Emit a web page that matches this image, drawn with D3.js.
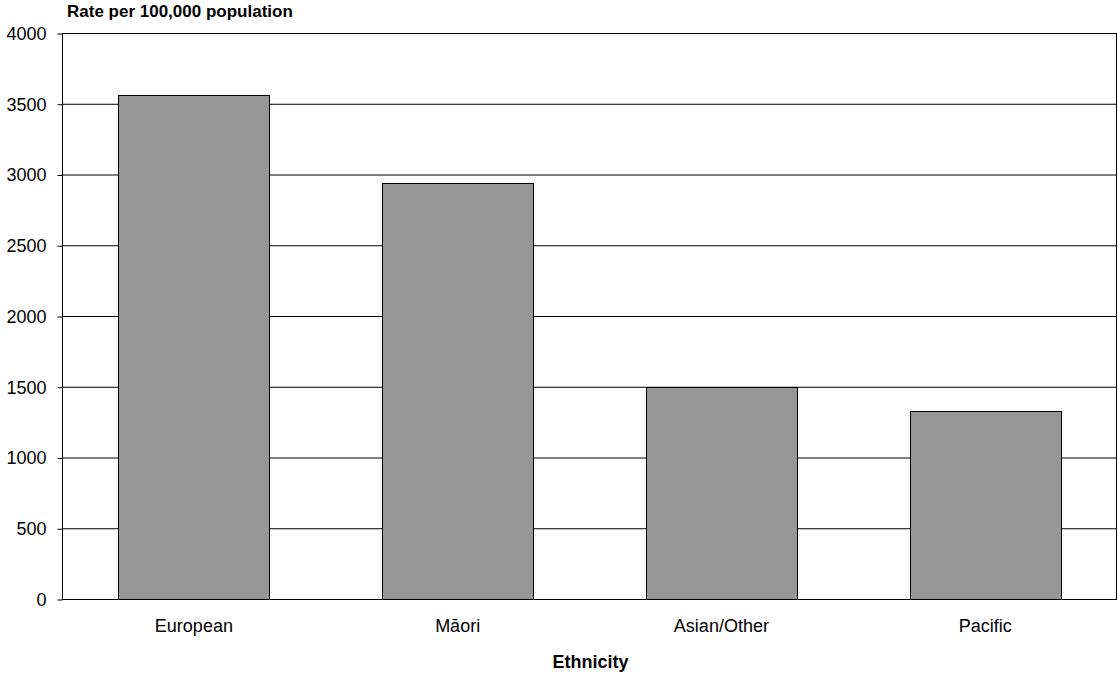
<!DOCTYPE html>
<html><head><meta charset="utf-8">
<script src="https://cdn.jsdelivr.net/npm/d3@7"></script>
<style>body{margin:0;background:#fff}svg{display:block}text{font-family:"Liberation Sans",Arial,sans-serif}</style>
</head><body>
<svg id="c" width="1118" height="675"></svg>
<script>
const categories = ["European", "Māori", "Asian/Other", "Pacific"];
const values = [3562, 2942, 1496, 1328];
const yTicks = [0, 500, 1000, 1500, 2000, 2500, 3000, 3500, 4000];
const yTitle = "Rate per 100,000 population";
const xTitle = "Ethnicity";

const svg = d3.select("#c");
const m = {l: 62, r: 1117, t: 33, b: 599};
const x = d3.scaleBand().domain(categories).range([m.l, m.r]).paddingInner(0.4275).paddingOuter(0.21375);
const y = d3.scaleLinear().domain([0, 4000]).range([m.b, m.t]);

// gridlines
svg.append("g").selectAll("line").data(yTicks.filter(d => d > 0)).join("line")
  .attr("x1", m.l).attr("x2", m.r).attr("y1", d => y(d) + 0.5).attr("y2", d => y(d) + 0.5)
  .attr("stroke", "#000").attr("stroke-width", 1);

// bars
svg.append("g").selectAll("rect").data(values).join("rect")
  .attr("x", (d, i) => Math.round(x(categories[i])) + 0.5)
  .attr("y", d => Math.round(y(d)) + 0.5)
  .attr("width", x.bandwidth())
  .attr("height", d => Math.round(y(0)) - Math.round(y(d)))
  .attr("fill", "#969696").attr("stroke", "#000").attr("stroke-width", 1);

// frame
svg.append("rect").attr("x", m.l + 0.5).attr("y", m.t + 0.5).attr("width", m.r - m.l - 1).attr("height", m.b - m.t)
  .attr("fill", "none").attr("stroke", "#000");

// y axis
const ya = svg.append("g").attr("transform", `translate(${m.l + 0.5},0.5)`)
  .call(d3.axisLeft(y).tickValues(yTicks).tickSize(5).tickPadding(11).tickFormat(d3.format("d")));
ya.select(".domain").remove();
ya.selectAll("text").attr("font-size", 18).attr("fill", "#000").attr("font-family", "Liberation Sans, Arial, sans-serif");
ya.selectAll("line").attr("stroke", "#000");

// x axis labels
const xa = svg.append("g").attr("transform", `translate(0,${m.b})`)
  .call(d3.axisBottom(x).tickSize(0).tickPadding(20));
xa.select(".domain").remove();
xa.selectAll("text").attr("font-size", 18).attr("fill", "#000").attr("font-family", "Liberation Sans, Arial, sans-serif");

svg.append("text").attr("x", 67).attr("y", 17).attr("font-size", 17).attr("font-weight", "bold").text(yTitle);
svg.append("text").attr("x", 590.5).attr("y", 668).attr("text-anchor", "middle")
  .attr("font-size", 18).attr("font-weight", "bold").text(xTitle);
</script>
</body></html>
